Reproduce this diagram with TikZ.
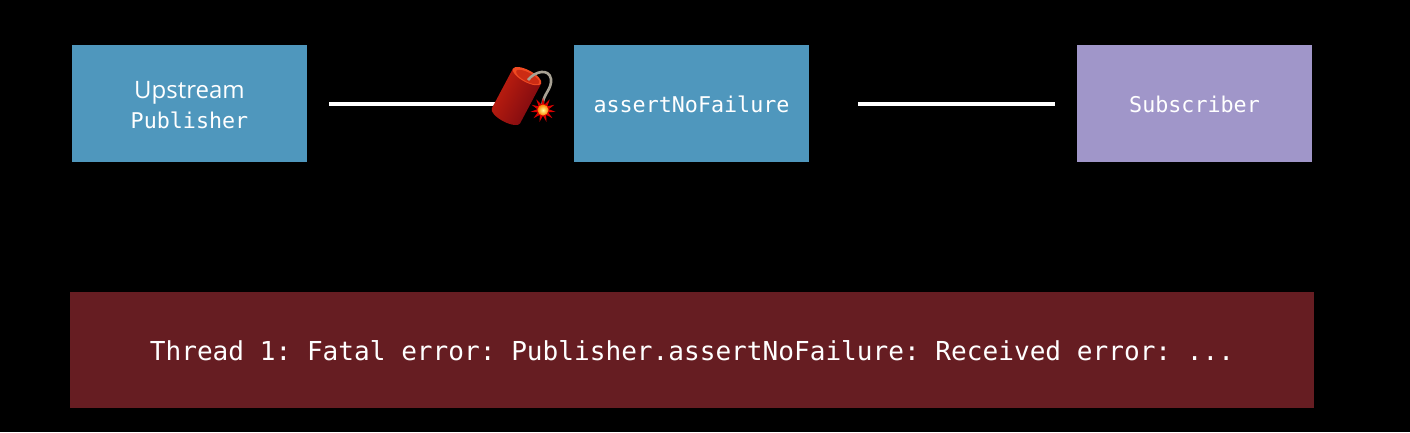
\documentclass[tikz,border=0pt]{standalone}
\usepackage{fontspec}
\setmainfont{Open Sans}
\setmonofont{DejaVu Sans Mono}
\usetikzlibrary{shapes.geometric}
\definecolor{pubblue}{HTML}{4F97BD}
\definecolor{subpurple}{HTML}{A096C9}
\definecolor{errred}{HTML}{661D22}
\definecolor{bombmid}{HTML}{DC3A14}
\definecolor{bombleft}{HTML}{C4200F}
\definecolor{bombright}{HTML}{780810}
\definecolor{bombrim}{HTML}{F04A22}
\definecolor{bombtop}{HTML}{CC2C14}
\definecolor{fusegray}{HTML}{A8A294}
\tikzset{
opbox/.style={fill=#1,text=white,minimum width=235pt,minimum height=117pt,inner sep=0pt,align=center},
wire/.style={draw=white,line width=4pt}
}
\begin{document}
\begin{tikzpicture}[x=1pt,y=-1pt]
\def\bomb{
\begin{scope}[shift={(516.5,96)},rotate=-28]
\shade[left color=bombleft,middle color=bombmid,right color=bombright,shading angle=62] (-16,-22.5) -- (16,-22.5) -- (16,22.5) arc[start angle=0,end angle=-180,x radius=16pt,y radius=6pt] -- cycle;
\fill[bombrim] (0,-22.5) ellipse[x radius=16pt,y radius=6pt];
\fill[bombtop] (1,-22) ellipse[x radius=13pt,y radius=4.5pt];
\end{scope}
\draw[line width=2.6pt,color=fusegray] (528,80) .. controls (535,71) and (549,68) .. (551,79) .. controls (552,89) and (544,93) .. (542.5,104);
\node[star,star points=11,star point ratio=2.2,minimum size=25pt,inner sep=0pt,fill=red!85!black] (spark) at (543,110) {};
\shade[inner color=white!60!yellow,outer color=orange] (543,110) circle (5.5pt);
}
\fill[black] (0,0) rectangle (1410,432);
\node[opbox=pubblue] (upstream) at (189.5,103.5) {\rule{0pt}{24pt}\raisebox{4pt}{\fontsize{24}{28}\selectfont Upstream}\\[6pt]\fontsize{21.7}{26}\selectfont\ttfamily Publisher};
\node[opbox=pubblue,text height=17pt,text depth=0pt,font=\fontsize{21.7}{26}\selectfont\ttfamily] (failure) at (691.5,103.5) {assertNoFailure};
\node[opbox=subpurple,text height=17pt,text depth=0pt,font=\fontsize{21.7}{26}\selectfont\ttfamily] (subscriber) at (1194.5,103.5) {Subscriber};
\node[fill=errred,text=white,minimum width=1244pt,minimum height=116pt,inner sep=0pt,text height=20pt,text depth=0pt,font=\fontsize{26.1}{30}\selectfont\ttfamily] (fatal) at (692,350) {Thread 1: Fatal error: Publisher.assertNoFailure: Received error: ...};
\coordinate (bombend) at (497,103.5);
\draw[wire,shorten <=22pt] (upstream) -- (bombend);
\draw[wire,shorten <=49pt,shorten >=22pt] (failure.east) -- (subscriber.west);
\bomb
\end{tikzpicture}
\end{document}
